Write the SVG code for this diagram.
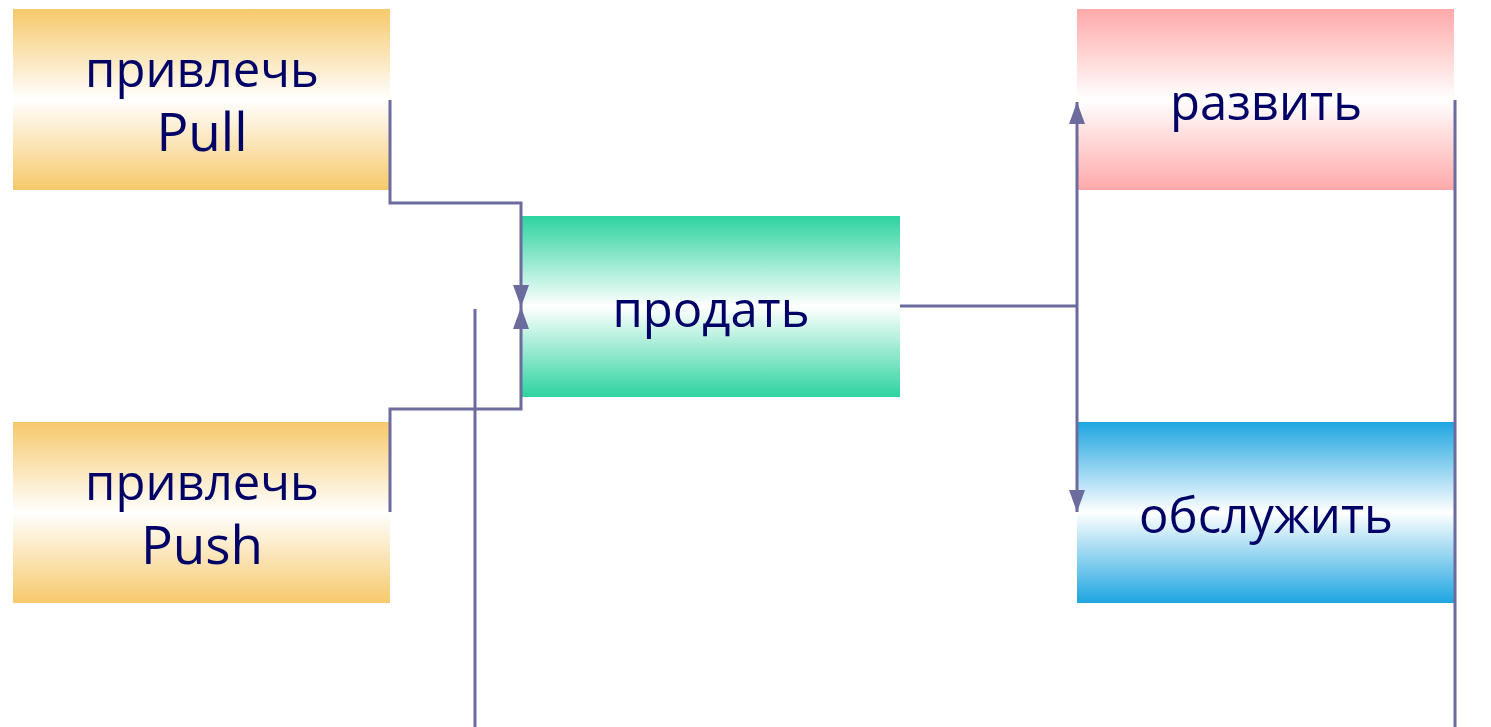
<svg xmlns="http://www.w3.org/2000/svg" width="1491" height="727" viewBox="0 0 1491 727">
<style>
.t{font-family:"Open Sans","DejaVu Sans",sans-serif;font-size:49px;fill:#000066;text-anchor:middle}
.l{font-size:53px}
.c{fill:none;stroke:#6B6B9E;stroke-width:3}
</style>
<defs>
<linearGradient id="gO" x1="0" y1="0" x2="0" y2="1"><stop offset="0" stop-color="#F6C96B"/><stop offset="0.5" stop-color="#FFFFFF"/><stop offset="1" stop-color="#F6C96B"/></linearGradient>
<linearGradient id="gG" x1="0" y1="0" x2="0" y2="1"><stop offset="0" stop-color="#2DD39F"/><stop offset="0.5" stop-color="#FFFFFF"/><stop offset="1" stop-color="#2DD39F"/></linearGradient>
<linearGradient id="gR" x1="0" y1="0" x2="0" y2="1"><stop offset="0" stop-color="#FFA9A9"/><stop offset="0.5" stop-color="#FFFFFF"/><stop offset="1" stop-color="#FFA9A9"/></linearGradient>
<linearGradient id="gB" x1="0" y1="0" x2="0" y2="1"><stop offset="0" stop-color="#1EA5E0"/><stop offset="0.5" stop-color="#FFFFFF"/><stop offset="1" stop-color="#1EA5E0"/></linearGradient>
<marker id="ar" viewBox="0 0 22 16" refX="22" refY="8" markerWidth="22" markerHeight="16" markerUnits="userSpaceOnUse" orient="auto"><path d="M0,0 L22,8 L0,16 Z" fill="#6B6B9E"/></marker>
</defs>
<g id="pull"><rect x="13" y="9" width="377" height="181" fill="url(#gO)"/><text class="t" x="202" y="87">привлечь</text><text class="t l" x="202" y="151">Pull</text></g>
<g id="push"><rect x="13" y="422" width="377" height="181" fill="url(#gO)"/><text class="t" x="202" y="500">привлечь</text><text class="t l" x="202" y="564">Push</text></g>
<g id="sell"><rect x="522" y="216" width="378" height="181" fill="url(#gG)"/><text class="t" x="711" y="327">продать</text></g>
<g id="develop"><rect x="1077" y="9" width="377" height="181" fill="url(#gR)"/><text class="t" x="1266" y="120">развить</text></g>
<g id="serve"><rect x="1077" y="422" width="377" height="181" fill="url(#gB)"/><text class="t" x="1266" y="533">обслужить</text></g>
<g id="connectors">
<path class="c" d="M390,100 V203 H521 V307" marker-end="url(#ar)"/>
<path class="c" d="M390,512 V409 H521 V307" marker-end="url(#ar)"/>
<path class="c" d="M475,309 V727"/>
<path class="c" d="M900,306 H1077"/>
<path class="c" d="M1077,306 V102" marker-end="url(#ar)"/>
<path class="c" d="M1077,306 V512" marker-end="url(#ar)"/>
<path class="c" d="M1455,100 V727"/>
</g>
</svg>
